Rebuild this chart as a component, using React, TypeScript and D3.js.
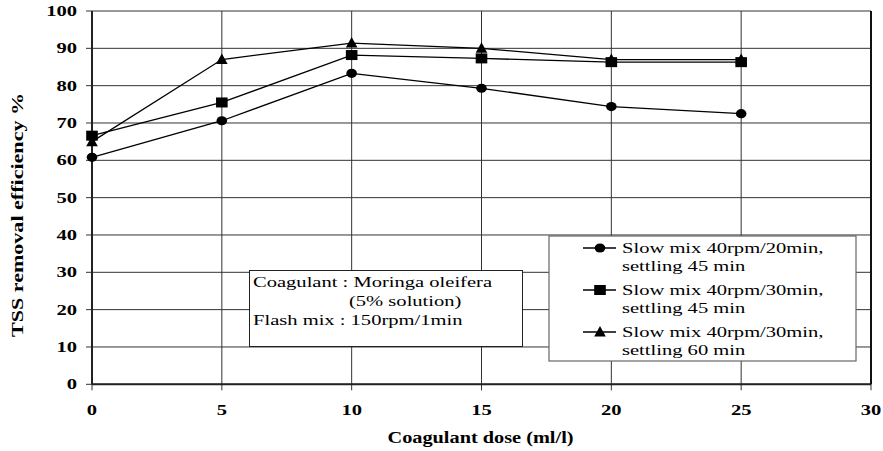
import React from "react";
import * as d3 from "d3";

const doses = [0, 5, 10, 15, 20, 25];
const series1 = [60.8, 70.6, 83.3, 79.3, 74.4, 72.5]; // circles
const series2 = [66.6, 75.5, 88.2, 87.3, 86.3, 86.3]; // squares
const series3 = [65.0, 87.0, 91.4, 90.0, 87.0, 87.0]; // triangles
const legendLabels = [
  ["Slow mix 40rpm/20min,", "settling 45 min"],
  ["Slow mix 40rpm/30min,", "settling 45 min"],
  ["Slow mix 40rpm/30min,", "settling 60 min"],
];
const xTicks = [0, 5, 10, 15, 20, 25, 30];
const yTicks = [0, 10, 20, 30, 40, 50, 60, 70, 80, 90, 100];
const noteLines = ["Coagulant : Moringa oleifera", "(5% solution)", "Flash mix : 150rpm/1min"];

const W = 883;
const H = 451;
const SX = 1.37;
const FONT = '"Liberation Serif", "Times New Roman", Times, serif';

function Marker({ type, x, y }: { type: string; x: number; y: number }) {
  if (type === "circle") return <ellipse cx={x} cy={y} rx={5.3} ry={4.6} fill="#000" />;
  if (type === "square") return <rect x={x - 5.8} y={y - 5} width={11.6} height={10} fill="#000" />;
  return <path d={`M${x},${y - 6} L${x + 5.8},${y + 4.5} L${x - 5.8},${y + 4.5} Z`} fill="#000" />;
}

function T({ x, y, children, anchor = "start", size = 15, weight = "normal", rotate = 0, sx = SX }: any) {
  return (
    <text
      transform={`translate(${x},${y})${rotate ? ` rotate(${rotate})` : ""} scale(${sx},1)`}
      textAnchor={anchor}
      style={{ fontFamily: FONT, fontSize: size + "px", fontWeight: weight }}
      fill="#000"
    >
      {children}
    </text>
  );
}

export default function App() {
  const x = d3.scaleLinear().domain([0, 30]).range([92, 871]);
  const y = d3.scaleLinear().domain([0, 100]).range([384.3, 11]);
  const line = d3
    .line<number>()
    .x((_, i) => x(doses[i]))
    .y((d) => y(d));
  const series = [
    { vals: series1, type: "circle" },
    { vals: series2, type: "square" },
    { vals: series3, type: "triangle" },
  ];
  const lx = 549, ly = 236, lw = 307, lh = 125;
  return (
    <svg width={W} height={H} style={{ position: "absolute", left: 0, top: 0, background: "#fff" }}>
      <rect x={0} y={0} width={W} height={H} fill="#fff" />
      {/* grid */}
      {yTicks.map((t) => (
        <line key={"gy" + t} x1={x(0) - 6} x2={x(30)} y1={y(t)} y2={y(t)} stroke="#333" strokeWidth={1} />
      ))}
      {xTicks.map((t) => (
        <line key={"gx" + t} x1={x(t)} x2={x(t)} y1={y(100)} y2={y(0) + 6} stroke="#333" strokeWidth={1} />
      ))}
      {/* axes */}
      <line x1={x(0)} x2={x(0)} y1={y(100)} y2={y(0)} stroke="#222" strokeWidth={2} />
      <line x1={x(0)} x2={x(30)} y1={y(0)} y2={y(0)} stroke="#222" strokeWidth={2} />
      <line x1={x(30)} x2={x(30)} y1={y(100)} y2={y(0)} stroke="#111" strokeWidth={2} />
      {/* tick labels */}
      {yTicks.map((t) => (
        <T key={"ly" + t} x={77} y={y(t) + 5} anchor="end" weight="bold">
          {t}
        </T>
      ))}
      {xTicks.map((t) => (
        <T key={"lx" + t} x={x(t)} y={415} anchor="middle" weight="bold">
          {t}
        </T>
      ))}
      <T x={480.5} y={443} anchor="middle" weight="bold" size={16} sx={1.27}>
        Coagulant dose (ml/l)
      </T>
      <T x={22.5} y={215} anchor="middle" weight="bold" size={16} sx={1.38} rotate={-90}>
        TSS removal efficiency %
      </T>
      {/* series */}
      {series.map((s, si) => (
        <g key={"s" + si}>
          <path d={line(s.vals) || ""} fill="none" stroke="#000" strokeWidth={1.3} />
          {s.vals.map((v, i) => (
            <Marker key={i} type={s.type} x={x(doses[i])} y={y(v)} />
          ))}
        </g>
      ))}
      {/* note box */}
      <rect x={249.5} y={270.5} width={273} height={76} fill="#fff" stroke="#222" strokeWidth={1} />
      <T x={253} y={287}>{noteLines[0]}</T>
      <T x={349} y={306}>{noteLines[1]}</T>
      <T x={253} y={325}>{noteLines[2]}</T>
      {/* legend */}
      <rect x={lx} y={ly} width={lw} height={lh} fill="#fff" stroke="#666" strokeWidth={1.2} />
      {series.map((s, i) => {
        const by = 253 + i * 42;
        return (
          <g key={"lg" + i}>
            <line x1={583} x2={616} y1={by - 5} y2={by - 5} stroke="#000" strokeWidth={1.3} />
            <Marker type={s.type} x={600} y={by - 5} />
            <T x={622} y={by}>{legendLabels[i][0]}</T>
            <T x={622} y={by + 18}>{legendLabels[i][1]}</T>
          </g>
        );
      })}
    </svg>
  );
}
